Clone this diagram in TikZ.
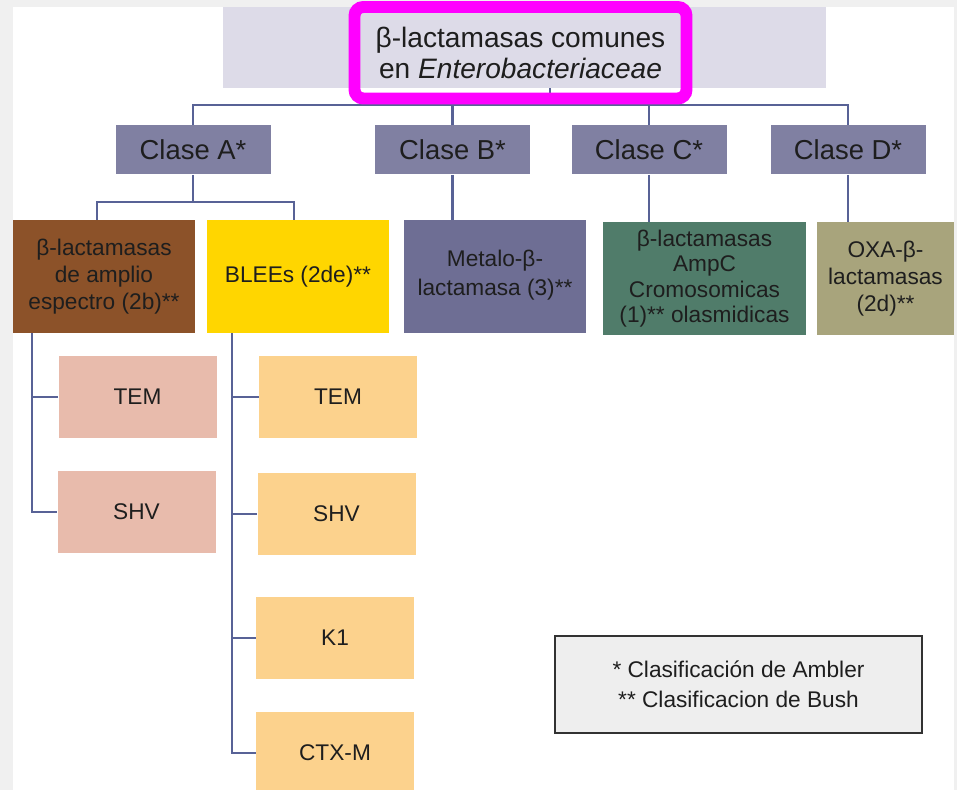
\documentclass[tikz,border=0pt]{standalone}
\usepackage{fontspec}
\setmainfont{Liberation Sans}
\usepackage{xcolor}
\usepackage{tikz}
\usetikzlibrary{positioning,calc}
\definecolor{pagegray}{RGB}{240,240,240}
\definecolor{bandgray}{RGB}{221,219,232}
\definecolor{hilite}{RGB}{255,0,255}
\definecolor{clasecol}{RGB}{128,128,162}
\definecolor{linecol}{RGB}{88,98,150}
\definecolor{amplcol}{RGB}{140,82,41}
\definecolor{bleecol}{RGB}{255,214,0}
\definecolor{metalcol}{RGB}{110,110,148}
\definecolor{ampccol}{RGB}{80,124,106}
\definecolor{oxacol}{RGB}{168,164,124}
\definecolor{pinkcol}{RGB}{232,187,172}
\definecolor{orangecol}{RGB}{252,210,141}
\definecolor{legfill}{RGB}{238,238,238}
\definecolor{legdraw}{RGB}{50,50,50}
\definecolor{txtcol}{RGB}{30,30,30}
% one pixel of the slide
\newcommand\pxu{0.02cm}
\tikzset{
  % basic box
  box/.style={
    rectangle,
    inner sep=0pt,
    align=center,
    text=txtcol,
    font=\fontsize{12.9}{15.5}\selectfont
  },
  % class boxes
  clase/.style={box, fill=clasecol, minimum width=155*\pxu, minimum height=49*\pxu,
    font=\fontsize{15.6}{18}\selectfont},
  % family boxes
  fam/.style={box, minimum height=113*\pxu},
  % enzyme boxes
  enz/.style={box, minimum width=158*\pxu, minimum height=82*\pxu},
  % connectors
  conn/.style={draw=linecol, line width=1.6pt},
}

\begin{document}
\begin{tikzpicture}[x=\pxu, y=-\pxu]
    % Page
    \clip (0,0) rectangle (957,790);
    \fill[pagegray] (0,0) rectangle (957,790);
    \fill[white] (13,7) rectangle (954,790);

    % Title
    \node[box, fill=bandgray, minimum width=603*\pxu, minimum height=81*\pxu] (band) at (524.5,47.5) {};
    \coordinate (hub) at (550,105);

    % Classes
    \node[clase] (claseA) at (193,150) {Clase A*};
    \node[clase] (claseB) at (452.5,150) {Clase B*};
    \node[clase] (claseC) at (649,150) {Clase C*};
    \node[clase] (claseD) at (848,150) {Clase D*};

    % Families
    \node[fam, fill=amplcol, minimum width=182*\pxu] (amplio) at (104,276.5)
        {β-lactamasas\\de amplio\\espectro (2b)**};
    \node[fam, fill=bleecol, minimum width=182*\pxu] (blees) at (298,276.5) {BLEEs (2de)**};
    \node[fam, fill=metalcol, minimum width=182*\pxu] (metalo) at (495,276.5)
        {\\[-8pt]Metalo-β-\\[1pt]lactamasa (3)**};
    \node[fam, fill=ampccol, minimum width=203*\pxu, font=\fontsize{12.9}{14.5}\selectfont] (ampc) at (704.5,278.5)
        {β-lactamasas\\AmpC\\Cromosomicas\\(1)** olasmidicas};
    \node[fam, fill=oxacol, minimum width=137*\pxu] (oxa) at (885.5,278.5)
        {OXA-β-\\lactamasas\\(2d)**};

    % Enzymes
    \node[enz, fill=pinkcol] (temA) at (137.5,397) {TEM};
    \node[enz, fill=pinkcol] (shvA) at (136.5,512) {SHV};
    \node[enz, fill=orangecol] (temB) at (338,397) {TEM};
    \node[enz, fill=orangecol] (shvB) at (336.5,514) {SHV};
    \node[enz, fill=orangecol] (kone) at (335,638) {K1};
    \node[enz, fill=orangecol] (ctxm) at (335,753) {CTX-M};

    % Legend
    \node[box, fill=legfill, draw=legdraw, line width=1.1pt, minimum width=367*\pxu, minimum height=97*\pxu,
        font=\fontsize{12.9}{17}\selectfont] (legend) at (738.5,684.5)
        {* Clasificación de Ambler\\** Clasificacion de Bush};

    % Title to classes
    \draw[conn] (band.south -| hub) -- (hub);
    \draw[conn] (claseA.north) |- (claseD.north |- hub) -- (claseD.north);
    \foreach \n in {claseB, claseC}
        \draw[conn] (\n.north) -- (\n.north |- hub);

    % Class A split
    \coordinate (splitL) at (97,202);
    \coordinate (splitR) at (294,202);
    \draw[conn] (claseA.south) -- (claseA.south |- splitL);
    \draw[conn] (amplio.north -| splitL) -- (splitL) -- (splitR) -- (blees.north -| splitR);

    % Classes B, C, D
    \foreach \c/\f in {claseB/metalo, claseC/ampc, claseD/oxa}
        \draw[conn] (\c.south) -- (\c.south |- \f.north);

    % Enzyme trees
    \coordinate (treeA) at (32,333);
    \coordinate (treeB) at (232,333);
    \draw[conn] (amplio.south -| treeA) |- (shvA.west);
    \draw[conn] (temA.west) -- (temA.west -| treeA);
    \draw[conn] (blees.south -| treeB) |- (ctxm.west);
    \foreach \n in {temB, shvB, kone}
        \draw[conn] (\n.west) -- (\n.west -| treeB);

    % Highlight
    \node[box, draw=hilite, line width=6.8pt, rounded corners=5pt, minimum width=332*\pxu, minimum height=91.5*\pxu,
        font=\fontsize{16}{17.7}\selectfont] (title) at (520.5,52.75)
        {β-lactamasas comunes\\en \textit{Enterobacteriaceae}};
\end{tikzpicture}
\end{document}
